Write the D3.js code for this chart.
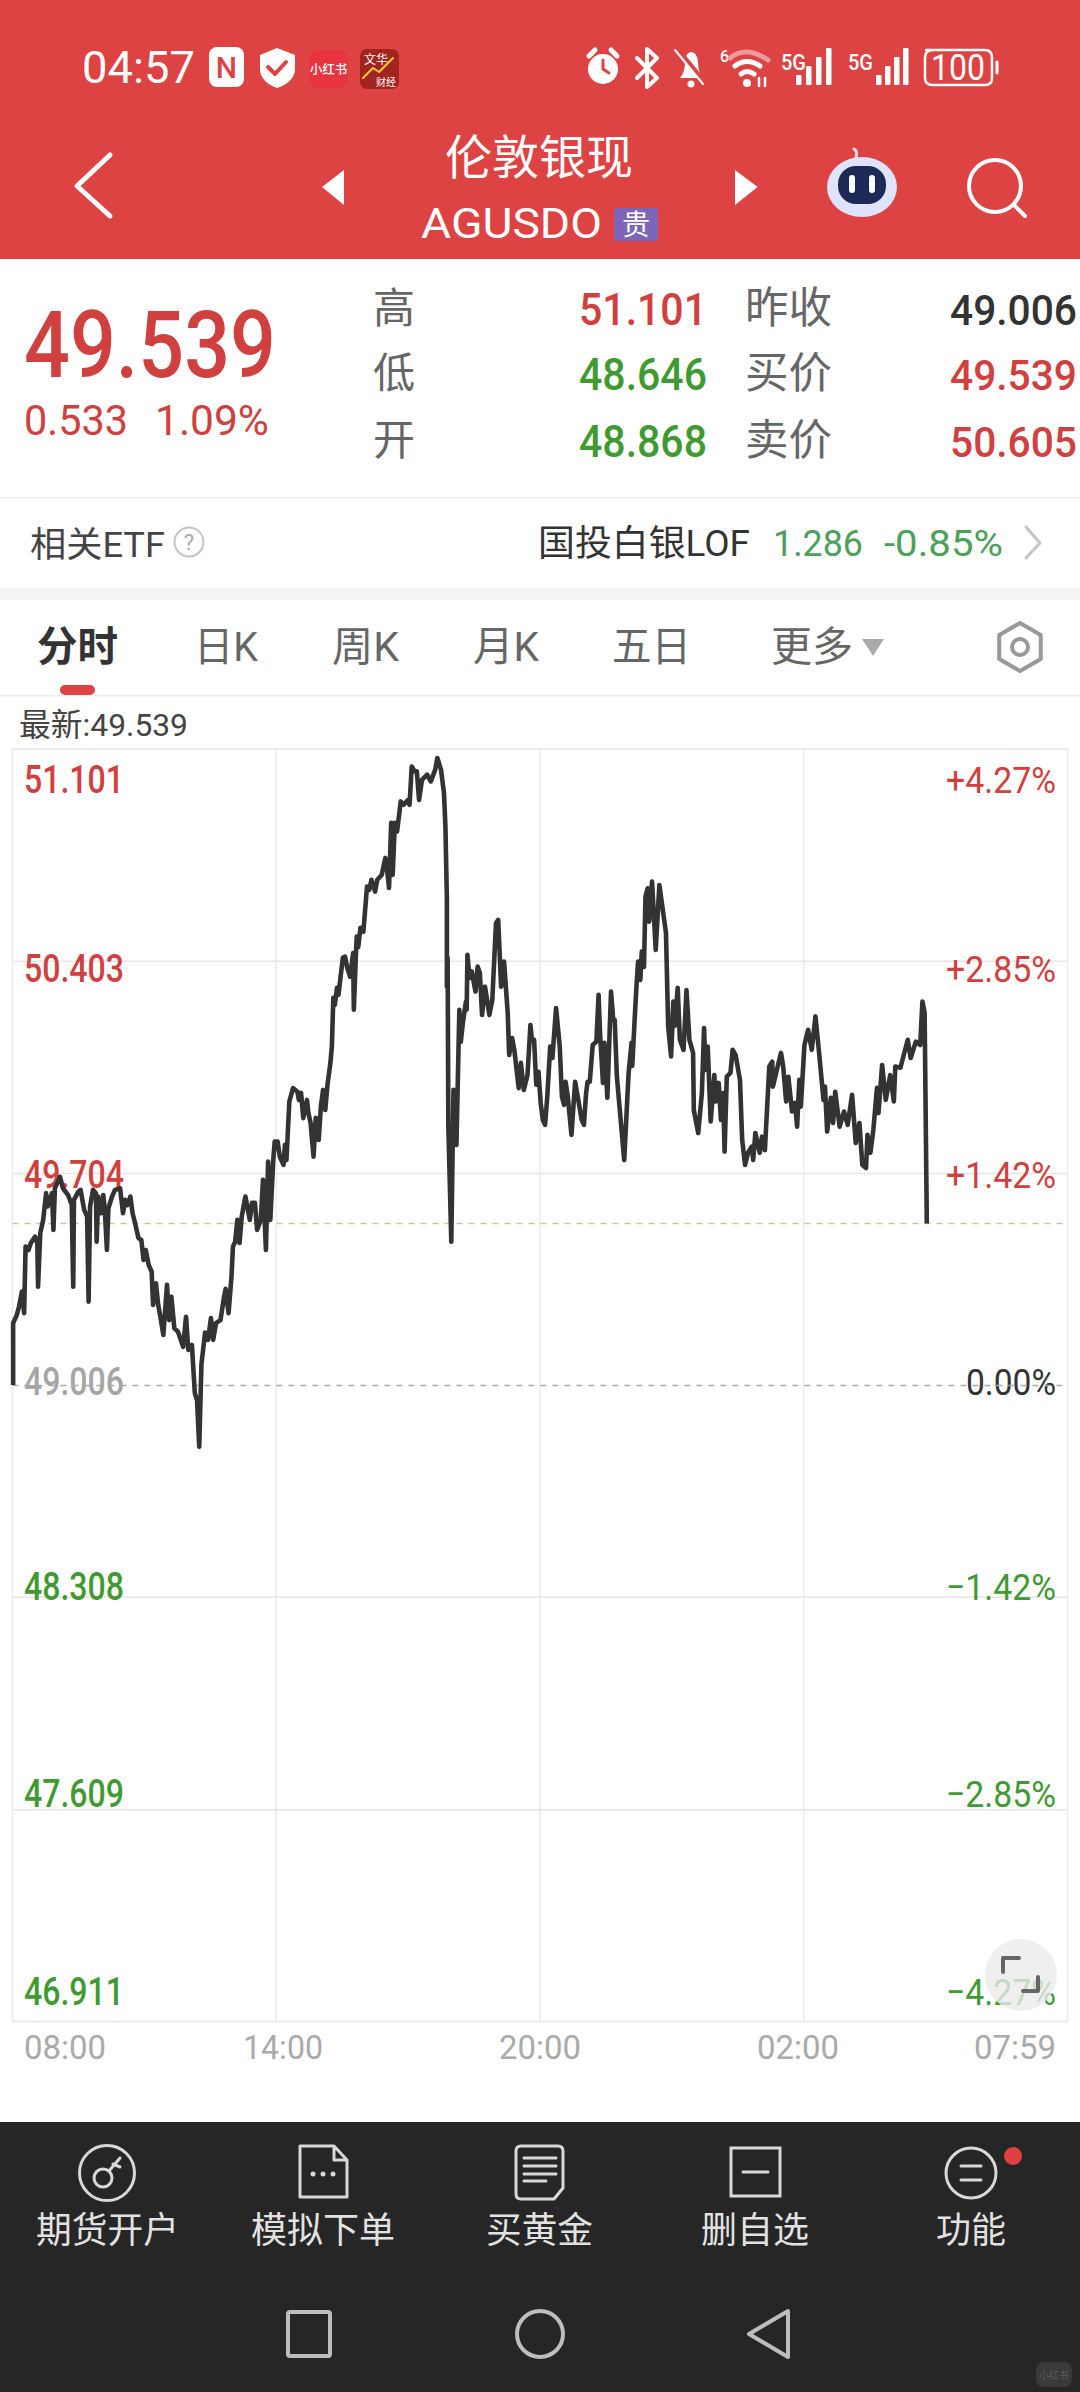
<!DOCTYPE html>
<html lang="zh"><head><meta charset="utf-8"><title>伦敦银现</title>
<script src="https://cdnjs.cloudflare.com/ajax/libs/d3/7.8.5/d3.min.js"></script>
<style>html,body{margin:0;padding:0;background:#fff}svg{display:block}text{font-family:Roboto,"Noto Sans CJK SC",sans-serif}</style>
</head><body><svg id="c" width="1080" height="2392" viewBox="0 0 1080 2392"></svg>
<script>
// minutes since 08:00
const minutes=[1,1,6,9,13,16,18,22,25,31,34,35,38,42,46,48,54,56,58,65,69,76,81,83,84,90,93,98,102,104,106,110,114,115,117,121,124,126,129,131,136,140,147,151,154,157,161,164,167,172,176,179,182,186,190,192,196,199,202,206,211,214,217,221,226,233,237,240,245,249,252,255,
258,263,267,271,274,278,284,289,291,295,299,301,304,307,310,313,318,324,327,331,334,339,342,346,349,352,356,358,362,365,370,372,374,378,383,389,391,394,397,402,404,407,411,414,418,421,424,427,430,434,436,438,440,443,445,451,454,457,461,465,466,469,470,472,475,479,484,487,490,495,498,504,509,511,514,517,519,522,525,530,534,540,542,545,549,552,555,559,566,571,577,580,585,589,591,593,593,594,595,599,
602,604,606,610,612,615,619,620,621,624,627,632,635,638,641,645,647,651,655,660,663,667,671,676,678,682,685,691,694,698,703,707,709,712,715,718,721,724,727,730,734,737,742,747,750,753,755,758,763,768,773,777,780,783,785,788,792,797,800,802,806,808,812,817,820,822,825,829,835,841,845,846,849,852,854,857,859,862,864,867,869,873,878,883,888,892,895,899,902,904,908,911,916,920,924,929,930,936,
941,944,946,949,953,958,960,964,967,970,972,975,980,983,987,993,996,1000,1004,1009,1011,1014,1020,1023,1027,1033,1037,1038,1044,1049,1052,1056,1059,1064,1068,1071,1074,1076,1081,1086,1091,1096,1101,1107,1109,1112,1117,1120,1123,1129,1135,1140,1146,1151,1156,1160,1165,1167,1171,1175,1180,1182,1187,1192,1198,1203,1205,1212,1219,1222,1226,1233,1239,1242,1245,1248];
const prices=[49.007,49.211,49.238,49.265,49.315,49.244,49.463,49.452,49.474,49.496,49.474,49.331,49.507,49.551,49.639,49.595,49.639,49.518,49.655,49.693,49.655,49.633,49.600,49.331,49.617,49.644,49.650,49.584,49.562,49.282,49.595,49.650,49.639,49.479,49.628,49.573,49.633,49.589,49.452,49.589,49.628,49.650,49.655,49.573,49.617,49.600,49.628,49.573,49.545,49.491,49.485,49.419,49.452,49.403,49.381,49.271,49.342,49.271,49.232,49.172,49.337,49.221,49.298,49.194,49.183,49.133,49.232,49.123,49.139,48.980,48.958,48.804,
49.076,49.180,49.156,49.228,49.156,49.212,49.221,49.300,49.324,49.244,49.363,49.463,49.479,49.551,49.475,49.562,49.628,49.551,49.607,49.607,49.518,49.551,49.683,49.452,49.743,49.551,49.748,49.809,49.809,49.759,49.732,49.798,49.748,49.941,49.985,49.973,49.946,49.969,49.886,49.946,49.903,49.870,49.759,49.887,49.814,49.924,49.979,49.913,49.996,50.068,50.122,50.282,50.259,50.315,50.292,50.414,50.418,50.381,50.352,50.430,50.243,50.435,50.484,50.450,50.513,50.500,50.649,50.638,50.671,50.632,50.671,50.687,50.743,50.714,50.644,50.859,50.687,50.859,50.830,50.929,50.918,50.934,50.918,51.044,51.028,51.028,50.934,51.000,51.017,50.995,51.033,51.072,51.033,50.957,50.846,50.605,50.319,50.414,49.858,49.479,
49.979,49.930,49.798,50.243,50.138,50.204,50.270,50.243,50.424,50.348,50.369,50.303,50.385,50.364,50.226,50.319,50.289,50.226,50.276,50.528,50.539,50.319,50.402,50.233,50.094,50.150,50.111,49.985,50.068,49.979,50.028,50.193,50.144,50.144,49.996,50.039,49.936,49.880,49.864,49.957,50.122,50.084,50.249,50.122,49.957,49.930,50.006,49.957,49.831,50.006,49.936,49.880,49.864,49.969,50.006,50.006,50.127,50.138,50.292,50.167,50.002,50.134,49.953,50.303,50.210,50.210,50.023,49.913,49.748,50.035,50.134,50.058,50.200,50.332,50.402,50.341,50.435,50.384,50.616,50.643,50.533,50.665,50.440,50.654,50.566,50.496,50.188,50.089,50.270,50.190,50.315,50.144,50.111,50.308,50.144,50.101,49.913,49.837,
49.969,50.183,50.045,50.122,49.875,50.028,49.941,50.002,49.880,49.969,49.776,50.023,50.035,50.111,50.094,50.012,49.814,49.732,49.772,49.792,49.748,49.837,49.772,49.825,49.781,50.056,50.072,49.990,50.052,50.101,50.056,49.941,50.022,49.908,49.936,49.858,50.012,49.924,50.127,50.177,50.111,50.221,50.101,49.946,49.990,49.842,49.953,49.870,49.973,49.858,49.908,49.864,49.963,49.804,49.870,49.732,49.722,49.831,49.772,49.847,49.986,49.903,50.061,49.946,50.028,49.941,50.056,50.052,50.117,50.144,50.084,50.138,50.127,50.270,50.233,49.539];
const priceTicks=["51.101","50.403","49.704","49.006","48.308","47.609","46.911"];
const pctTicks=["+4.27%","+2.85%","+1.42%","0.00%","−1.42%","−2.85%","−4.27%"];
const timeTicks=["08:00","14:00","20:00","02:00","07:59"];
const prevClose=49.006, lastPrice=49.539;
const statusIcons=["小红书","文华","财经"];
const tabs=["分时","日K","周K","月K","五日","更多"];
const statLabels=["高","低","开","昨收","买价","卖价"];
const statValues=["51.101","48.646","48.868","49.006","49.539","50.605"];
const bottomItems=["期货开户","模拟下单","买黄金","删自选","功能"];

const RED="#d0403e",GREEN="#3f9a32",HEAD="#dd4343";
const svg=d3.select("#c");
function T(p,x,y,s,size,fill,w,opt={}){
  const e=p.append("text").attr("x",x).attr("y",y).text(s).attr("font-size",size).attr("fill",fill)
   .attr("font-weight",opt.weight||400).attr("text-anchor",opt.anchor||"start");
  if(w){e.attr("textLength",w).attr("lengthAdjust","spacingAndGlyphs");}
  return e;
}
function P(p,d,o={}){return p.append("path").attr("d",d).attr("fill",o.fill||"none").attr("stroke",o.stroke||"none")
  .attr("stroke-width",o.w||0).attr("stroke-linecap","round").attr("stroke-linejoin","round");}
svg.append("rect").attr("width",1080).attr("height",2392).attr("fill","#fff");

// header
const head=svg.append("g");
head.append("rect").attr("width",1080).attr("height",259).attr("fill",HEAD);
T(head,82,83,"04:57",44,"#fff",113);
head.append("rect").attr("x",209).attr("y",47).attr("width",35).attr("height",40).attr("rx",8).attr("fill","#fff");
T(head,226.5,78,"N",30,HEAD,null,{anchor:"middle",weight:500});
P(head,"M277 48 L295 55 V70 Q294 82 277 88 Q261 82 260 70 V55 Z",{fill:"#fff"});
P(head,"M268 67 L275 74 L286 62",{stroke:HEAD,w:4});
head.append("rect").attr("x",309).attr("y",50).attr("width",39).attr("height",38).attr("rx",9).attr("fill","#e8343f");
T(head,328.5,74,statusIcons[0],12.5,"#fff",null,{anchor:"middle",weight:500});
head.append("rect").attr("x",360).attr("y",49).attr("width",39).attr("height",40).attr("rx",7).attr("fill","#a3231f");
T(head,364,64,statusIcons[1],12,"#fff");
T(head,376,86,statusIcons[2],10,"#fff");
P(head,"M363 78 L373 68 L379 72 L393 58",{stroke:"#f5cc3a",w:2});
// status right
head.append("circle").attr("cx",603).attr("cy",69).attr("r",15).attr("fill","#fff");
P(head,"M603 60 V69 L609 73",{stroke:HEAD,w:3});
P(head,"M589 56 L595 50 M617 56 L611 50",{stroke:"#fff",w:5});
P(head,"M637 58 L657 78 L647 87 V49 L657 58 L637 78",{stroke:"#fff",w:4});
P(head,"M680 78 Q685 72 685 62 Q686 52 691 52 Q697 52 698 62 Q698 72 703 78 Z",{fill:"#fff"});
head.append("circle").attr("cx",691).attr("cy",84).attr("r",3.5).attr("fill","#fff");
P(head,"M678 50 L706 84",{stroke:HEAD,w:5}); P(head,"M675 50 L703 84",{stroke:"#fff",w:2});
T(head,720,62,"6",16,"#fff",null,{weight:500});
P(head,"M730 58 Q746 45 768 60",{stroke:"#ee9a9a",w:5});
P(head,"M735 66 Q747 57 760 66",{stroke:"#fff",w:5});
P(head,"M741 74 Q747 69 754 74",{stroke:"#fff",w:5});
head.append("circle").attr("cx",747).attr("cy",83).attr("r",4).attr("fill","#fff");
P(head,"M759 78 V86 M765 78 V86",{stroke:"#fff",w:2.5});
[[781,"5G"],[848,"5G"]].forEach(([x,s],k)=>{
  T(head,x,70,s,22,"#fff",25,{weight:500});
  [0,1,2,3].forEach(i=>head.append("rect").attr("x",x+(k?28:15)+i*(k?9:10)).attr("y",85-(i*9+10)).attr("width",5.5).attr("height",i*9+10).attr("rx",1).attr("fill","#fff"));
});
P(head,"M926 50 H985 Q992 50 992 58 V78 Q992 85 985 85 H933 Q925 85 925 78 V58 Q925 50 933 50 Z",{stroke:"#fff",w:2.5});
P(head,"M997 62 V73",{stroke:"#fff",w:3});
T(head,958,80,"100",36,"#fff",54,{anchor:"middle"});
// nav
T(head,445,174,"伦敦银现",47,"#fff");
T(head,421,238,"AGUSDO",43,"#fff",181);
head.append("rect").attr("x",614).attr("y",208).attr("width",44).attr("height",33).attr("rx",2).attr("fill","#7d66b8");
T(head,636,235,"贵",28,"#fff",null,{anchor:"middle"});
P(head,"M110 155 L77 186 L110 216",{stroke:"#fff",w:5});
P(head,"M344 170 L322 187 L344 205 Z",{fill:"#fff"});
P(head,"M735 170 L757.6 187 L735 205 Z",{fill:"#fff"});
head.append("ellipse").attr("cx",862).attr("cy",187).attr("rx",35).attr("ry",30).attr("fill","#dfe3fb");
head.append("rect").attr("x",838).attr("y",166).attr("width",48).attr("height",38).attr("rx",18).attr("fill","#1d2a55");
P(head,"M852 178 V190 M872 178 V190",{stroke:"#fff",w:6});
P(head,"M856 157 Q858 151 854 149",{stroke:"#f1dcea",w:3});
head.append("circle").attr("cx",995).attr("cy",186).attr("r",26).attr("fill","none").attr("stroke","#fff").attr("stroke-width",4);
P(head,"M1014 205 L1025 216",{stroke:"#fff",w:4});

// stats
const st=svg.append("g");
T(st,24,377,lastPrice.toFixed(3),93,RED,252,{weight:500});
T(st,24,435,"0.533",42,RED,104);
T(st,155,435,"1.09%",42,RED,114);
const statYs=[325,390,457], statCol=[[RED,GREEN,GREEN],["#333",RED,RED]];
statLabels.forEach((s,i)=>{const c=i<3?0:1,r=i%3;
  T(st,c?745:373,statYs[r]-2,s,c?43:42,"#666",c?87:null);
  T(st,c?950:579,statYs[r],statValues[i],c?42:44,statCol[c][r],c?127:128,{weight:500});
});
st.append("rect").attr("y",497).attr("width",1080).attr("height",1.5).attr("fill","#f2f2f2");
T(st,30,557,"相关ETF",35,"#444",135);
st.append("circle").attr("cx",189).attr("cy",542).attr("r",14.5).attr("fill","none").attr("stroke","#c4c4c4").attr("stroke-width",2);
T(st,189,550,"?",22,"#aaa",null,{anchor:"middle"});
T(st,538,556,"国投白银LOF",36,"#333",212);
T(st,773,556,"1.286",36,"#4ba05a",90);
T(st,884,556,"-0.85%",36,"#4ba05a",119);
P(st,"M1026 527 L1040 543 L1026 558",{stroke:"#c4c4c4",w:3});
st.append("rect").attr("y",588).attr("width",1080).attr("height",12).attr("fill","#f5f5f5");

// tabs
const tabX=[[37,81],[194,64],[332,67],[473,66],[612,79],[771,82]];
tabs.forEach((s,i)=>T(st,tabX[i][0],661,s,41,i?"#666":"#333",tabX[i][1],{weight:i?400:700}));
st.append("rect").attr("x",60).attr("y",685).attr("width",35).attr("height",10).attr("rx",5).attr("fill",HEAD);
P(st,"M862 639 H884 L873 656 Z",{fill:"#aaa"});
const hex=d3.range(6).map(i=>[1020+24*Math.sin(i*Math.PI/3),647+24*Math.cos(i*Math.PI/3)]);
P(st,d3.line()(hex)+"Z",{stroke:"#999",w:4});
st.append("circle").attr("cx",1020).attr("cy",647).attr("r",8).attr("fill","none").attr("stroke","#999").attr("stroke-width",4);
st.append("rect").attr("y",695).attr("width",1080).attr("height",1.5).attr("fill","#eee");
T(st,19,736,"最新:"+lastPrice.toFixed(3),32,"#444",169);

// chart
const L=12.4,R=1067.5,TOP=749.2,BOT=2021.6;
const x=d3.scaleLinear().domain([0,1440]).range([L,R]);
const y=d3.scaleLinear().domain([46.911,51.101]).range([BOT,TOP]);
const chart=svg.append("g");
const gridV=[360,720,1080];
chart.selectAll(".gv").data(gridV).join("line").attr("x1",d=>x(d)).attr("x2",d=>x(d)).attr("y1",TOP).attr("y2",BOT).attr("stroke","#ececec").attr("stroke-width",1.5);
chart.selectAll(".gh").data(priceTicks.filter(d=>d!=="49.006").map(Number)).join("line").attr("x1",L).attr("x2",R).attr("y1",d=>y(d)).attr("y2",d=>y(d)).attr("stroke","#e6e6e6").attr("stroke-width",1.5);
chart.append("rect").attr("x",L).attr("y",TOP).attr("width",R-L).attr("height",BOT-TOP).attr("fill","none").attr("stroke","#eaeaea").attr("stroke-width",1.5);
const labelDy=[44,21,14.5,10,2.5,-3,-16.5];
const tickColor=i=>i<3?RED:i===3?"#a5a5a5":GREEN;
priceTicks.forEach((s,i)=>T(chart,24,y(+s)+labelDy[i],s,38,tickColor(i),100,{weight:500}));
pctTicks.forEach((s,i)=>T(chart,1056,y(+priceTicks[i])+labelDy[i],s,37,i===3?"#333":tickColor(i),i===3?90:110,{anchor:"end"}));
timeTicks.forEach((s,i)=>T(chart,[24,243,499,757,974][i],2059,s,34,"#aaa",[82,80,82,82,82][i]));
chart.append("line").attr("x1",L).attr("x2",R).attr("y1",y(lastPrice)).attr("y2",y(lastPrice)).attr("stroke","#c9c7a0").attr("stroke-width",1.5).attr("stroke-dasharray","6 6");
chart.append("line").attr("x1",L).attr("x2",R).attr("y1",y(prevClose)).attr("y2",y(prevClose)).attr("stroke","#aaa").attr("stroke-width",1.5).attr("stroke-dasharray","6 6");
const line=d3.line().x(d=>x(d[0])).y(d=>y(d[1]));
chart.append("path").datum(d3.zip(minutes,prices)).attr("d",line).attr("fill","none").attr("stroke","#333").attr("stroke-width",4.6).attr("stroke-linejoin","round");
chart.append("circle").attr("cx",1021).attr("cy",1975).attr("r",36).attr("fill","#ebebeb").attr("fill-opacity",.78);
P(chart,"M1003 1972 V1958 H1019",{stroke:"#666",w:4});
P(chart,"M1023 1991 H1038 V1977",{stroke:"#666",w:4});

// bottom
const bot=svg.append("g");
bot.append("rect").attr("y",2122).attr("width",1080).attr("height",270).attr("fill","#262626");
const ico="#d8d8d8",labX=[[36,143],[251,144],[486,107],[701,108],[936,70]];
bottomItems.forEach((s,i)=>T(bot,labX[i][0],2243,s,36,"#e2e2e2",labX[i][1]));
bot.append("circle").attr("cx",107).attr("cy",2173).attr("r",27.5).attr("fill","none").attr("stroke",ico).attr("stroke-width",3);
bot.append("circle").attr("cx",103).attr("cy",2178).attr("r",9).attr("fill","none").attr("stroke",ico).attr("stroke-width",3);
P(bot,"M109 2171 L120 2158 M113 2164 L120 2167",{stroke:ico,w:3});
P(bot,"M300 2146 H334 L347 2160 V2197 H300 Z M334 2146 V2160 H347",{stroke:ico,w:3});
[313,323,333].forEach(cx=>bot.append("circle").attr("cx",cx).attr("cy",2174).attr("r",2.5).attr("fill",ico));
P(bot,"M521 2146 H558 Q563 2146 563 2151 V2188 L554 2199 H521 Q516 2199 516 2194 V2151 Q516 2146 521 2146 Z",{stroke:ico,w:3});
P(bot,"M524 2158 H556 M524 2166 H556 M524 2174 H556 M524 2181 H546",{stroke:ico,w:3});
bot.append("rect").attr("x",731).attr("y",2148).attr("width",49).attr("height",48).attr("fill","none").attr("stroke",ico).attr("stroke-width",3);
P(bot,"M743 2172 H768",{stroke:ico,w:3});
bot.append("circle").attr("cx",971).attr("cy",2173).attr("r",25).attr("fill","none").attr("stroke",ico).attr("stroke-width",3);
P(bot,"M961 2166 H981 M961 2180 H981",{stroke:ico,w:3});
bot.append("circle").attr("cx",1013).attr("cy",2156).attr("r",9).attr("fill","#e04040");
const nav="#bdbdbd";
bot.append("rect").attr("x",288).attr("y",2312).attr("width",42).attr("height",44).attr("rx",2).attr("fill","none").attr("stroke",nav).attr("stroke-width",4);
bot.append("circle").attr("cx",540).attr("cy",2334).attr("r",23).attr("fill","none").attr("stroke",nav).attr("stroke-width",4);
P(bot,"M788 2311 L749 2334 L788 2357 Z",{stroke:nav,w:4});
bot.append("rect").attr("x",1036).attr("y",2362).attr("width",36).attr("height",25).attr("rx",8).attr("fill","#3a3a3a");
T(bot,1054,2379,statusIcons[0],10,"#5a5a5a",null,{anchor:"middle"});
</script></body></html>
